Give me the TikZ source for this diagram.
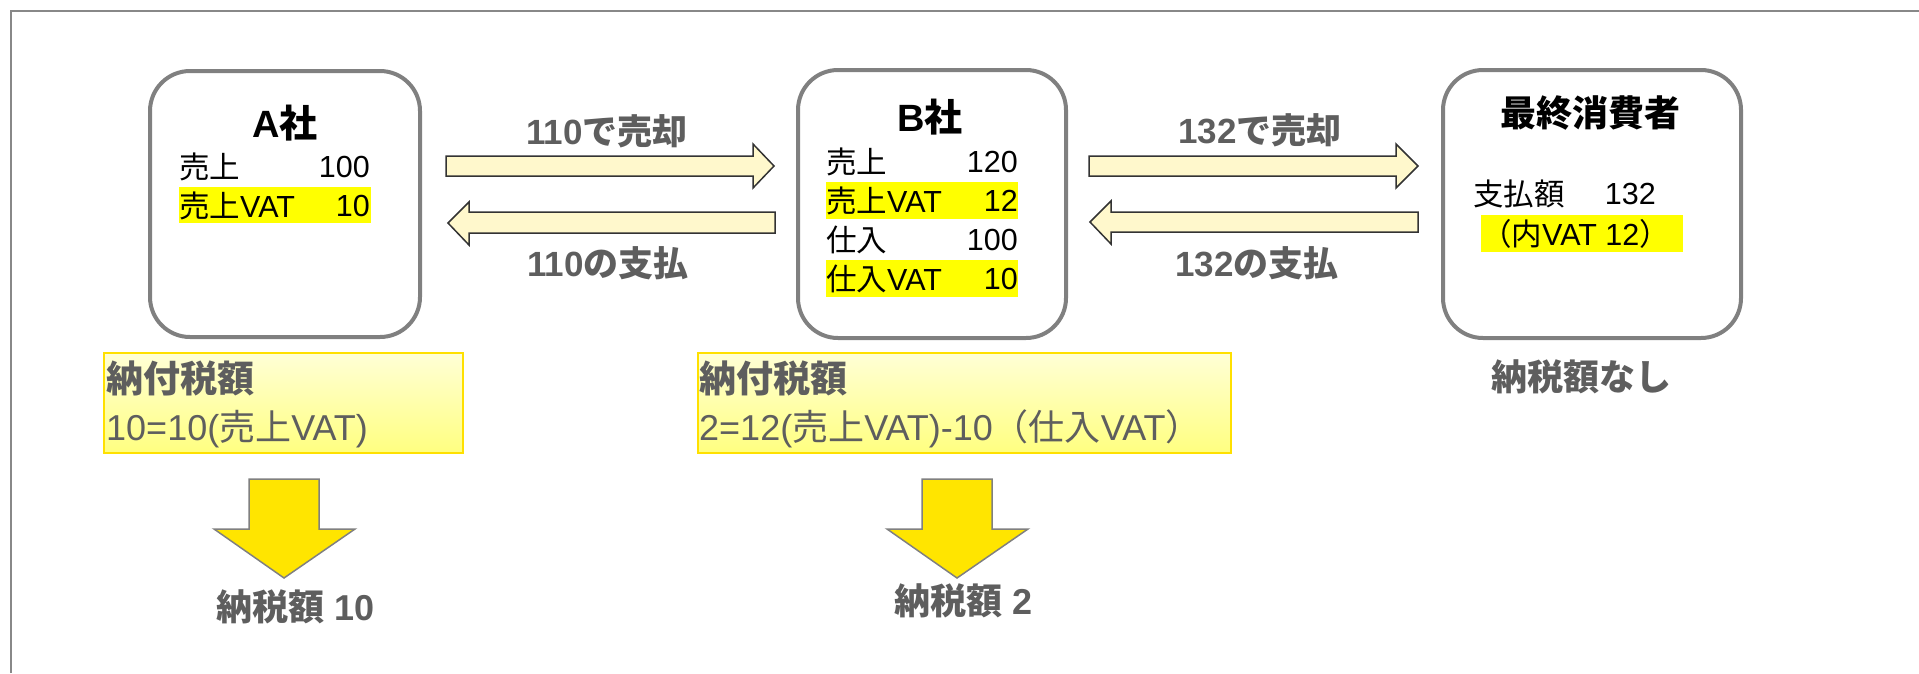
\documentclass[tikz,border=0pt]{standalone}
\usepackage{fontspec}
\setmainfont{Liberation Sans}
\newfontfamily\jp{Noto Sans CJK JP}
\definecolor{framegray}{HTML}{888888}
\definecolor{boxgray}{HTML}{808080}
\definecolor{txtgray}{HTML}{5E5E5E}
\definecolor{cream}{HTML}{FFF8CC}
\definecolor{hl}{HTML}{FFFF00}
\definecolor{gold}{HTML}{FFE000}
\definecolor{taxtop}{HTML}{FFFFD6}
\definecolor{taxbot}{HTML}{FFFF80}
\definecolor{downfill}{HTML}{FFE500}
\newcommand{\fsz}[1]{\fontsize{#1}{#1}\selectfont}
\tikzset{
  entity/.style={draw=boxgray, line width=4pt, rounded corners=40pt, fill=white, inner sep=0pt},
  bodytxt/.style={font=\fsz{30.5}, inner sep=0pt, text=black},
  ttl/.style={font=\fsz{38}\bfseries, inner sep=0pt, text=black},
  flowarrow/.style={fill=cream, draw=black!80, line width=1.5pt, line join=miter},
  flowlabel/.style={font=\fsz{35}\bfseries, text=txtgray, inner sep=0pt},
  taxbox/.style={draw=gold, line width=2pt, top color=taxtop, bottom color=taxbot},
  taxtext/.style={font=\fsz{36}, text=txtgray, inner sep=0pt, anchor=west},
  taxhead/.style={font=\fsz{37}\bfseries, text=txtgray, inner sep=0pt, anchor=west},
  downarrow/.style={fill=downfill, draw=boxgray, line width=1.5pt, line join=miter},
  hlbox/.style={fill=hl, draw=none},
  result/.style={font=\fsz{36}\bfseries, text=txtgray, inner sep=0pt}
}
\begin{document}
\begin{tikzpicture}[x=1pt,y=-1pt]
\useasboundingbox (0,0) rectangle (1919,673);
% frame
\draw[framegray, line width=2pt] (11,673) -- (11,11) -- (1919,11);

% entity boxes
\node[entity, minimum width=270pt, minimum height=266pt] (A) at (285,204) {};
\node[entity, minimum width=268pt, minimum height=268pt] (B) at (932,204) {};
\node[entity, minimum width=298pt, minimum height=268pt] (C) at (1592,204) {};

% A contents
\node[ttl] (Attl) at (285,123) {A{\jp 社}};
\node[bodytxt, anchor=west] (Ar1) at (179,167) {\jp 売上};
\node[bodytxt, anchor=east] (Ar1v) at (370,167) {100};
\fill[hlbox] (179,187) rectangle (371,223);
\node[bodytxt, anchor=west] (Ar2) at (179,206) {{\jp 売上}VAT};
\node[bodytxt, anchor=east] (Ar2v) at (370,206) {10};

% B contents
\node[ttl] (Bttl) at (930,117) {B{\jp 社}};
\node[bodytxt, anchor=west] (Br1) at (826,162) {\jp 売上};
\node[bodytxt, anchor=east] (Br1v) at (1018,162) {120};
\fill[hlbox] (826,182) rectangle (1018,219);
\node[bodytxt, anchor=west] (Br2) at (826,201) {{\jp 売上}VAT};
\node[bodytxt, anchor=east] (Br2v) at (1018,201) {12};
\node[bodytxt, anchor=west] (Br3) at (826,240) {\jp 仕入};
\node[bodytxt, anchor=east] (Br3v) at (1018,240) {100};
\fill[hlbox] (826,260) rectangle (1018,297);
\node[bodytxt, anchor=west] (Br4) at (826,279) {{\jp 仕入}VAT};
\node[bodytxt, anchor=east] (Br4v) at (1018,279) {10};

% C contents
\node[ttl] (Cttl) at (1590,113) {\fsz{36}\jp\bfseries 最終消費者};
\node[bodytxt, anchor=west] (Cr1) at (1473,194) {\jp 支払額};
\node[bodytxt, anchor=east] (Cr1v) at (1656,194) {132};
\fill[hlbox] (1481,215) rectangle (1683,252);
\node[bodytxt, anchor=west] (Cr2) at (1481,234) {{\jp （内}VAT 12{\jp ）}};

% flow arrows A-B
\draw[flowarrow] (446,156) -- (753,156) -- (753,144) -- (774,166) -- (753,188) -- (753,176) -- (446,176) -- cycle;
\draw[flowarrow] (775,212) -- (469,212) -- (469,202) -- (448,223) -- (469,245) -- (469,233) -- (775,233) -- cycle;
\node[flowlabel] (l1) at (607,131) {110{\jp で売却}};
\node[flowlabel] (l2) at (608,263) {110{\jp の支払}};

% flow arrows B-C
\draw[flowarrow] (1089,156) -- (1396,156) -- (1396,144) -- (1418,166) -- (1396,188) -- (1396,176) -- (1089,176) -- cycle;
\draw[flowarrow] (1418,212) -- (1111,212) -- (1111,201) -- (1090,222) -- (1111,244) -- (1111,232) -- (1418,232) -- cycle;
\node[flowlabel] (l3) at (1260,130) {132{\jp で売却}};
\node[flowlabel] (l4) at (1257,263) {132{\jp の支払}};

% tax boxes
\draw[taxbox] (104,353) rectangle (463,453);
\node[taxhead] (At1) at (106,378) {\jp\bfseries 納付税額};
\node[taxtext] (At2) at (106,429) {10=10({\jp 売上}VAT)};
\draw[taxbox] (698,353) rectangle (1231,453);
\node[taxhead] (Bt1) at (699,378) {\jp\bfseries 納付税額};
\node[taxtext] (Bt2) at (699,429) {2=12({\jp 売上}VAT)-10{\jp （仕入}VAT{\jp ）}};
\node[result] (Cnone) at (1581,377) {\jp\bfseries 納税額なし};

% down arrows
\draw[downarrow] (249,479) -- (319,479) -- (319,529) -- (355,529) -- (284,578) -- (214,529) -- (249,529) -- cycle;
\draw[downarrow] (922,479) -- (992,479) -- (992,529) -- (1028,529) -- (957,578) -- (887,529) -- (922,529) -- cycle;
\node[result] (Ares) at (296,607) {{\jp\bfseries 納税額} 10};
\node[result] (Bres) at (963,601) {{\jp\bfseries 納税額} 2};
\end{tikzpicture}
\end{document}
